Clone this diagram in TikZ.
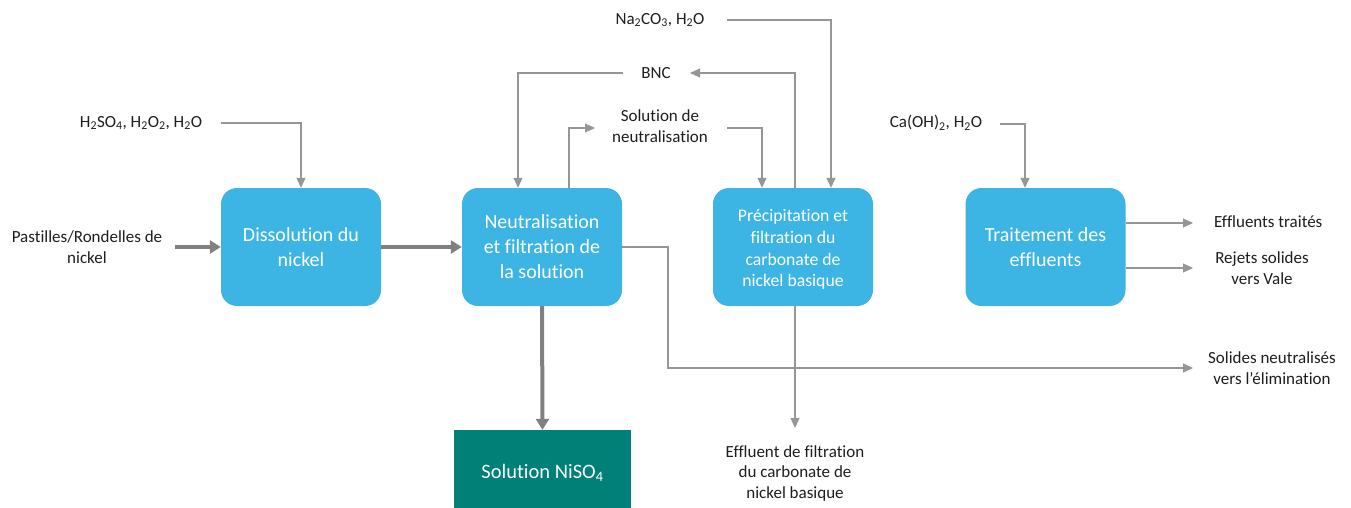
\documentclass[tikz,border=0pt]{standalone}
\usepackage{fontspec}
\setmainfont{Carlito}[Ligatures=NoCommon]
\usetikzlibrary{arrows.meta}
\definecolor{boxblue}{RGB}{61,181,228}
\definecolor{teal2}{RGB}{0,128,119}
\definecolor{linegray}{RGB}{150,150,150}
\definecolor{thickgray}{RGB}{128,128,128}
\definecolor{txt}{RGB}{30,30,30}
\tikzset{
  pbox/.style={fill=boxblue, rounded corners=16pt, text=white, align=center, minimum width=160pt, minimum height=118pt, inner sep=0pt, font=\fontsize{20}{25}\selectfont},
  sbox/.style={pbox, font=\fontsize{17.7}{21.7}\selectfont},
  tbox/.style={fill=teal2, text=white, minimum width=177pt, minimum height=80pt, inner sep=0pt, font=\fontsize{20.5}{24}\selectfont},
  lab/.style={text=txt, align=center, inner sep=0pt, font=\fontsize{17}{20.5}\selectfont},
  thin/.style={draw=linegray, line width=1.1pt, -{Triangle[length=10pt,width=9pt]}},
  thick/.style={draw=thickgray, line width=4pt, -{Triangle[length=11pt,width=13pt]}}
}
\begin{document}
\begin{tikzpicture}[x=1pt,y=-1pt]
\useasboundingbox (0,0) rectangle (1351,508);
% process boxes
\node[pbox] (diss) at (301,247) {Dissolution du\\nickel};
\node[pbox] (neut) at (542,247) {Neutralisation\\et filtration de\\la solution};
\node[sbox] (prec) at (793,247) {\raisebox{-3pt}[\height][\depth]{\begin{tabular}{@{}c@{}}Précipitation et\\filtration du\\carbonate de\\nickel basique\end{tabular}}};
\node[pbox] (trait) at (1045.5,247) {Traitement des\\effluents};
\node[tbox] (niso) at (542.5,470) {\raisebox{-3pt}[\height][\depth]{Solution NiSO\textsubscript{4}}};
% labels
\node[lab] (past) at (87,247) {Pastilles/Rondelles de\\nickel};
\node[lab] (h2so4) at (141,123) {H\textsubscript{2}SO\textsubscript{4}, H\textsubscript{2}O\textsubscript{2}, H\textsubscript{2}O};
\node[lab] (na) at (660,20) {Na\textsubscript{2}CO\textsubscript{3}, H\textsubscript{2}O};
\node[lab] (bnc) at (656,73) {BNC};
\node[lab] (solneut) at (660,126) {Solution de\\neutralisation};
\node[lab] (caoh) at (936,123) {Ca(OH)\textsubscript{2}, H\textsubscript{2}O};
\node[lab, anchor=west] (efft) at (1214,222) {Effluents traités};
\node[lab] (rejets) at (1262,268) {Rejets solides\\vers Vale};
\node[lab] (solides) at (1272,368) {Solides neutralisés\\vers l’élimination};
\node[lab] (effl) at (795,473) {Effluent de filtration\\du carbonate de\\nickel basique};
% coordinates
\coordinate (h2s) at (221,123);
\coordinate (nas) at (727,20);
\coordinate (bncl) at (623,73);
\coordinate (bncr) at (690,73);
\coordinate (snl) at (595,128);
\coordinate (snr) at (727,128);
\coordinate (cas) at (1000,124);
\coordinate (pastr) at (175,247);
\coordinate (t1) at (1193,223);
\coordinate (t2) at (1193,268);
\coordinate (sol) at (1193,368);
\coordinate (eff) at (795,428);
% thick flows
\draw[thick] (pastr) -- (diss.west);
\draw[thick] (diss.east) -- (neut.west);
\draw[thick] (neut.south) -- (niso.north);
% thin flows
\draw[thin] (h2s) -| (diss.north);
\draw[thin] (bncl) -| ([xshift=-24pt]neut.north);
\draw[thin] ([xshift=2pt]prec.north) |- (bncr);
\draw[thin] ([xshift=27pt]neut.north) |- (snl);
\draw[thin] (snr) -| ([xshift=-31pt]prec.north);
\draw[thin] (nas) -| ([xshift=38pt]prec.north);
\draw[thin] (cas) -| ([xshift=-20.5pt]trait.north);
\draw[thin] ([yshift=24pt]trait.east) -- (t1);
\draw[thin] ([yshift=-21pt]trait.east) -- (t2);
\draw[thin] (neut.east) -- (668,247) |- (sol);
\draw[thin] ([xshift=2pt]prec.south) -- (eff);
\end{tikzpicture}
\end{document}
